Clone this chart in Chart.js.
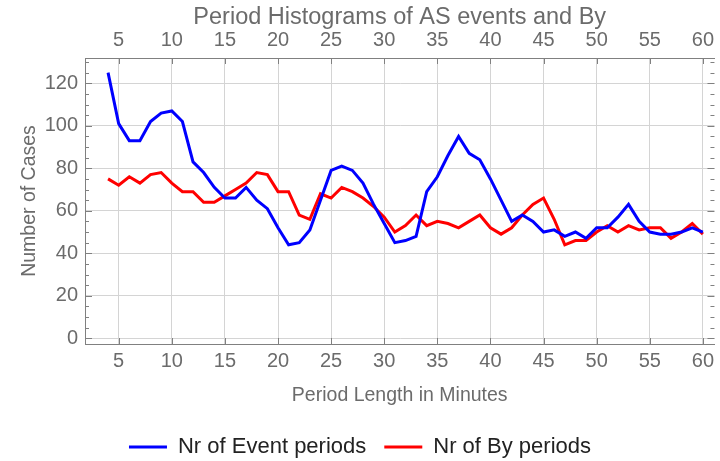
<!DOCTYPE html>
<html>
<head>
<meta charset="utf-8">
<script src="https://cdn.jsdelivr.net/npm/chart.js@4.4.0/dist/chart.umd.min.js"></script>
<style>
  html, body { margin: 0; padding: 0; background: #fff; }
</style>
</head>
<body>
<canvas id="myChart" width="720" height="461"></canvas>
<script>
// period length in minutes
const periods = [4, 5, 6, 7, 8, 9, 10, 11, 12, 13, 14, 15, 16, 17, 18, 19, 20,
  21, 22, 23, 24, 25, 26, 27, 28, 29, 30, 31, 32, 33, 34, 35, 36, 37, 38, 39, 40,
  41, 42, 43, 44, 45, 46, 47, 48, 49, 50, 51, 52, 53, 54, 55, 56, 57, 58, 59, 60];

const eventCounts = [125, 101, 93, 93, 102, 106, 107, 102, 83, 78, 71, 66, 66, 71, 65, 61, 52,
  44, 45, 51, 65, 79, 81, 79, 73, 63, 54, 45, 46, 48, 69, 76, 86, 95, 87, 84, 75,
  65, 55, 58, 55, 50, 51, 48, 50, 47, 52, 52, 57, 63, 55, 50, 49, 49, 50, 52, 50];

const byCounts = [75, 72, 76, 73, 77, 78, 73, 69, 69, 64, 64, 67, 70, 73, 78, 77, 69,
  69, 58, 56, 68, 66, 71, 69, 66, 62, 57, 50, 53, 58, 53, 55, 54, 52, 55, 58, 52,
  49, 52, 58, 63, 66, 56, 44, 46, 46, 50, 53, 50, 53, 51, 52, 52, 47, 50, 54, 49];

const xTicks = [5, 10, 15, 20, 25, 30, 35, 40, 45, 50, 55, 60];
const yTicks = [0, 20, 40, 60, 80, 100, 120];
const yMinorTicks = [0, 5, 10, 15, 20, 25, 30, 35, 40, 45, 50, 55, 60, 65,
  70, 75, 80, 85, 90, 95, 100, 105, 110, 115, 120, 125, 130];

const family = "'Liberation Sans', Arial, sans-serif";
const gray = '#6b6b6b';

// little inward tick marks like the original frame
const innerTicks = {
  id: 'innerTicks',
  beforeDatasetsDraw(chart) {
    const ctx = chart.ctx;
    const a = chart.chartArea;
    ctx.save();
    ctx.strokeStyle = '#808080';
    ctx.lineWidth = 1;
    ctx.beginPath();
    xTicks.forEach(v => {
      const px = Math.round(chart.scales.x.getPixelForValue(v)) + 0.5;
      ctx.moveTo(px, a.bottom); ctx.lineTo(px, a.bottom - 6);
      ctx.moveTo(px, a.top); ctx.lineTo(px, a.top + 6);
    });
    yMinorTicks.forEach(v => {
      const py = Math.round(chart.scales.y.getPixelForValue(v)) + 0.5;
      const len = v % 20 === 0 ? 7 : 4;
      ctx.moveTo(a.left, py); ctx.lineTo(a.left + len, py);
      ctx.moveTo(a.right, py); ctx.lineTo(a.right - len, py);
    });
    ctx.stroke();
    ctx.restore();
  },
  afterLayout(chart) {
    // push legend a bit lower
    chart.legend.top += 7;
    chart.legend.bottom += 7;
  }
};

const xMin = 1.83, xMax = 61.09;

var myChart = new Chart('myChart', {
  type: 'line',
  data: {
    datasets: [{
      label: 'Nr of Event periods',
      data: periods.map((p, i) => ({x: p, y: eventCounts[i]})),
      borderColor: '#0000ff',
      backgroundColor: '#0000ff',
      borderWidth: 3,
      pointRadius: 0,
      tension: 0
    }, {
      label: 'Nr of By periods',
      data: periods.map((p, i) => ({x: p, y: byCounts[i]})),
      borderColor: '#ff0000',
      backgroundColor: '#ff0000',
      borderWidth: 3,
      pointRadius: 0,
      tension: 0
    }]
  },
  options: {
    responsive: false,
    animation: false,
    layout: { padding: 0 },
    plugins: {
      tooltip: { enabled: false },
      legend: {
        position: 'bottom',
        labels: {
          color: '#222',
          font: { family: family, size: 22 },
          boxWidth: 38,
          boxHeight: 3,
          padding: 18,
          generateLabels: chart => Chart.defaults.plugins.legend.labels.generateLabels(chart)
            .map(l => Object.assign(l, { lineWidth: 0 }))
        }
      }
    },
    scales: {
      x: {
        type: 'linear',
        position: 'bottom',
        min: xMin,
        max: xMax,
        afterBuildTicks: s => { s.ticks = xTicks.map(v => ({value: v})); },
        afterFit: s => { s.height = 67; },
        grid: { color: '#d4d4d4', drawTicks: false },
        border: { color: '#808080', width: 1 },
        ticks: { color: gray, font: { family: family, size: 20 }, padding: 5, maxRotation: 0, autoSkip: false },
        title: { display: true, text: 'Period Length in Minutes', color: gray,
                 font: { family: family, size: 19.5 }, padding: { top: 0, bottom: 3.5 } }
      },
      x2: {
        type: 'linear',
        position: 'top',
        min: xMin,
        max: xMax,
        afterBuildTicks: s => { s.ticks = xTicks.map(v => ({value: v})); },
        afterFit: s => { s.height = 58; },
        grid: { drawOnChartArea: false, drawTicks: false },
        border: { color: '#808080', width: 1 },
        ticks: { color: gray, font: { family: family, size: 20 }, padding: 6, maxRotation: 0, autoSkip: false },
        title: { display: true, text: 'Period Histograms of AS events and By', color: gray,
                 font: { family: family, size: 23.5 }, padding: { top: 3, bottom: 0 } }
      },
      y: {
        min: -2.7,
        max: 131.9,
        afterBuildTicks: s => { s.ticks = yTicks.map(v => ({value: v})); },
        afterFit: s => { s.width = 85; },
        grid: { color: '#d4d4d4', drawTicks: false },
        border: { color: '#808080', width: 1 },
        ticks: { color: gray, font: { family: family, size: 20 }, padding: 7 },
        title: { display: true, text: 'Number of Cases', color: gray,
                 font: { family: family, size: 19.5 }, padding: { top: 17.5, bottom: 0 } }
      }
    }
  },
  plugins: [innerTicks]
});
</script>
</body>
</html>
